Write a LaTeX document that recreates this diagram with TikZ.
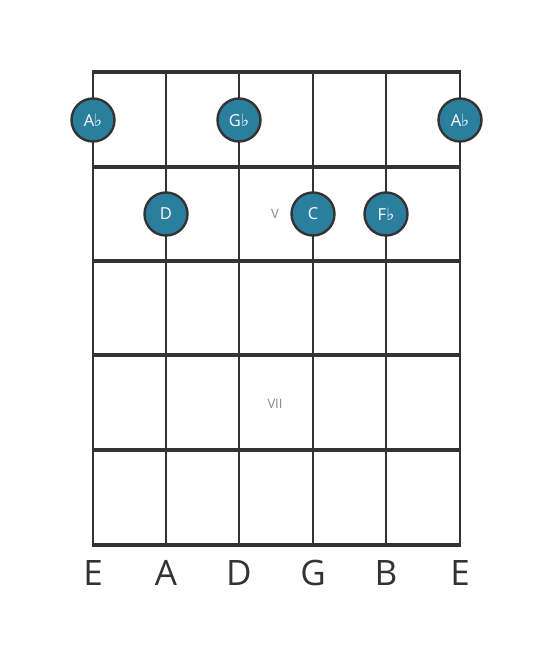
\documentclass[tikz,border=0pt]{standalone}
\usepackage{fontspec}
\setmainfont{Open Sans}
\newfontfamily\symfont{DejaVu Sans}
\definecolor{linec}{HTML}{333333}
\definecolor{dotc}{HTML}{2A7F9E}
\definecolor{fretlbl}{HTML}{888888}
\newcommand{\flt}{{\symfont\fontsize{17}{17}\selectfont\char"266D}}
\tikzset{
  stringline/.style={draw=linec, line width=2.5pt},
  fretline/.style={draw=linec, line width=4.8pt},
  notedot/.style={circle, fill=dotc, draw=linec, line width=2.4pt, minimum size=43pt, inner sep=0pt, text=white, font=\fontsize{16.5}{16.5}\selectfont},
  fretnum/.style={text=fretlbl, font=\fontsize{13}{13}\selectfont},
  strlbl/.style={text=linec, font=\fontsize{35}{35}\selectfont}
}
\begin{document}
\begin{tikzpicture}[x=1pt,y=-1pt]
\useasboundingbox (0,0) rectangle (553,656);
\foreach \x in {93,166,239,313,386,460} {
  \draw[stringline] (\x,72) -- (\x,545);
}
\foreach \y in {72,167,261,355,450,545} {
  \draw[fretline] (92,\y) -- (461,\y);
}
\node[fretnum] (v) at (275,214) {V};
\node[fretnum] (vii) at (275,404) {VII};
\node[notedot] (n1) at (93,120) {A\flt};
\node[notedot] (n2) at (239,120) {G\flt};
\node[notedot] (n3) at (460,120) {A\flt};
\node[notedot] (n4) at (166,214) {D};
\node[notedot] (n5) at (313,214) {C};
\node[notedot] (n6) at (386,214) {F\flt};
\node[strlbl] (s1) at (93,573) {E};
\node[strlbl] (s2) at (166,573) {A};
\node[strlbl] (s3) at (239,573) {D};
\node[strlbl] (s4) at (313,573) {G};
\node[strlbl] (s5) at (386,573) {B};
\node[strlbl] (s6) at (460,573) {E};
\end{tikzpicture}
\end{document}
